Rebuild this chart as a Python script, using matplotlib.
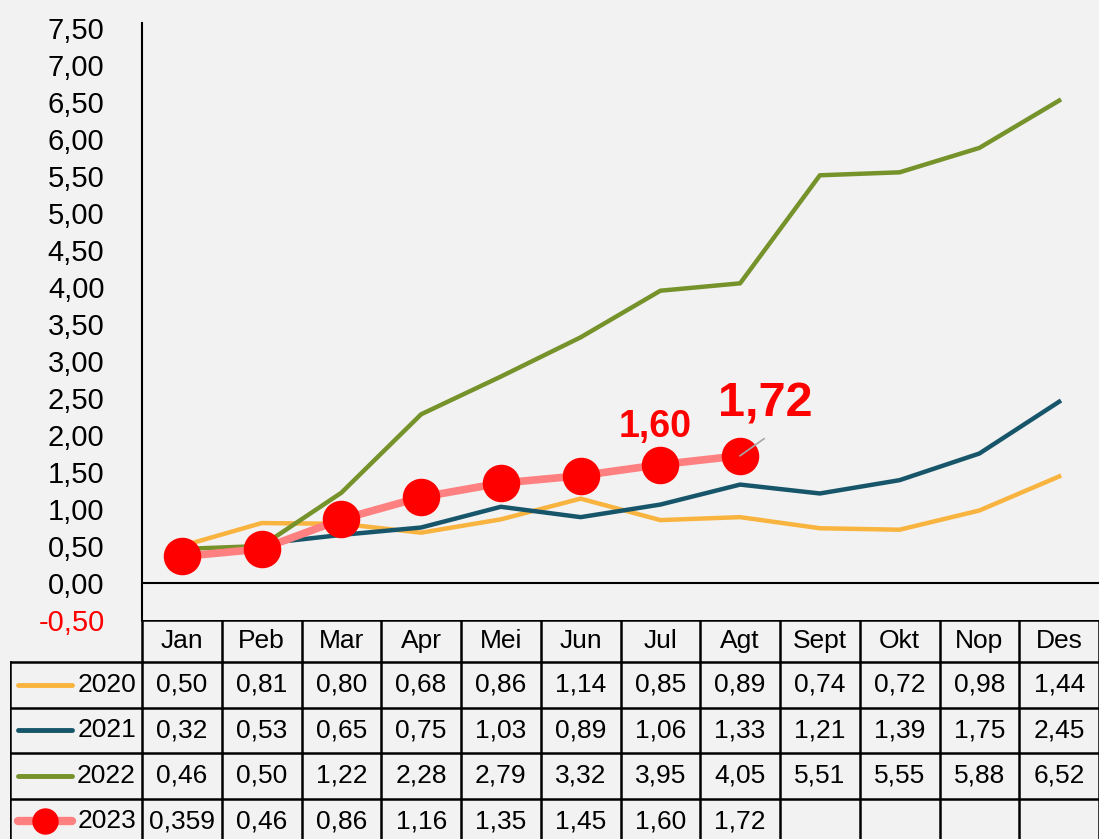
import numpy as np
import matplotlib.pyplot as plt

plt.rcParams['font.family'] = ['Liberation Sans', 'DejaVu Sans']

months = ['Jan', 'Peb', 'Mar', 'Apr', 'Mei', 'Jun', 'Jul', 'Agt', 'Sept', 'Okt', 'Nop', 'Des']
years = ['2020', '2021', '2022', '2023']
v2020 = [0.50, 0.81, 0.80, 0.68, 0.86, 1.14, 0.85, 0.89, 0.74, 0.72, 0.98, 1.44]
v2021 = [0.32, 0.53, 0.65, 0.75, 1.03, 0.89, 1.06, 1.33, 1.21, 1.39, 1.75, 2.45]
v2022 = [0.46, 0.50, 1.22, 2.28, 2.79, 3.32, 3.95, 4.05, 5.51, 5.55, 5.88, 6.52]
v2023 = [0.359, 0.46, 0.86, 1.16, 1.35, 1.45, 1.60, 1.72]
# index, label, font size, offset in points
callouts = [(6, '1,60', 27, (-4, 14)), (7, '1,72', 35, (18, 21))]

colors = {'2020': '#F9B33F', '2021': '#17566A', '2022': '#76922A', '2023': '#FF8080'}
values = {'2020': v2020, '2021': v2021, '2022': v2022, '2023': v2023}
bg = '#F2F2F2'


def fmt(v):
    s = '%.2f' % v if round(v, 2) == v else '%.3f' % v
    return s.replace('.', ',')


W, H = 1099, 839
fig = plt.figure(figsize=(W / 100, H / 100), dpi=100, facecolor=bg)
colw = 957 / 12

# main chart
ax = fig.add_axes([142 / W, (H - 620) / H, 957 / W, (620 - 23) / H], facecolor=bg)
x = np.arange(len(months))
for yr in ['2020', '2021', '2022']:
    ax.plot(x, values[yr], color=colors[yr], lw=3.2, solid_joinstyle='round', zorder=2)
x23 = np.arange(len(v2023))
ax.plot(x23, v2023, color=colors['2023'], lw=5.5, zorder=3)
ax.plot(x23, v2023, 'o', color='#FF0000', ms=26, zorder=4)

for i, txt, size, off in callouts:
    ax.annotate(txt, (i, v2023[i]), xytext=off, textcoords='offset points',
                ha='center', va='bottom', color='#FF0000', fontsize=size, fontweight='bold', zorder=5)
ax.plot([7, 7.3], [1.72, 1.95], color='#A6A6A6', lw=1.2, zorder=5)

ax.axhline(0, color='black', lw=1.5, zorder=1)
ax.set_xlim(-0.5, 11.5)
ax.set_ylim(-0.5, 7.568)
yt = np.arange(-0.5, 7.51, 0.5)
ax.set_yticks(yt)
ax.set_yticklabels([fmt(v) for v in yt], fontsize=21)
ax.get_yticklabels()[0].set_color('#FF0000')
ax.tick_params(axis='y', length=0, pad=27)
ax.set_xticks([])
for s in ['top', 'right', 'bottom']:
    ax.spines[s].set_visible(False)
ax.spines['left'].set_linewidth(1.5)

# data table
tb = fig.add_axes([10 / W, -5 / H, 1089 / W, 224 / H], facecolor=bg)
xl = -0.5 - 132 / colw
tb.set_xlim(xl, 11.5)
tb.set_ylim(224, 0)
tb.axis('off')
head_h, row_h = 42, 45.5
edges_y = [0, head_h] + [head_h + row_h * (r + 1) for r in range(len(years))]
lw = 1.8
tb.plot([-0.5, 11.5], [0, 0], color='black', lw=lw)
for yy in edges_y[1:]:
    tb.plot([xl, 11.5], [yy, yy], color='black', lw=lw)
for k in range(13):
    tb.plot([k - 0.5, k - 0.5], [0, 224], color='black', lw=lw)
tb.plot([xl, xl], [head_h, 224], color='black', lw=lw)

fs = 19
for i, m in enumerate(months):
    tb.text(i, head_h / 2, m, ha='center', va='center', fontsize=fs)
for r, yr in enumerate(years):
    cy = head_h + row_h * (r + 0.5)
    for i, v in enumerate(values[yr]):
        tb.text(i, cy, fmt(v), ha='center', va='center', fontsize=fs)
    sx = [xl + 8 / colw, xl + 62 / colw]
    tb.plot(sx, [cy, cy], color=colors[yr], lw=3.5 if yr != '2023' else 6, solid_capstyle='round')
    if yr == '2023':
        tb.plot([np.mean(sx)], [cy], 'o', color='#FF0000', ms=18)
    tb.text(-0.5 - 6 / colw, cy, yr, ha='right', va='center', fontsize=fs)

fig.savefig('out.png', dpi=100, facecolor=bg)
